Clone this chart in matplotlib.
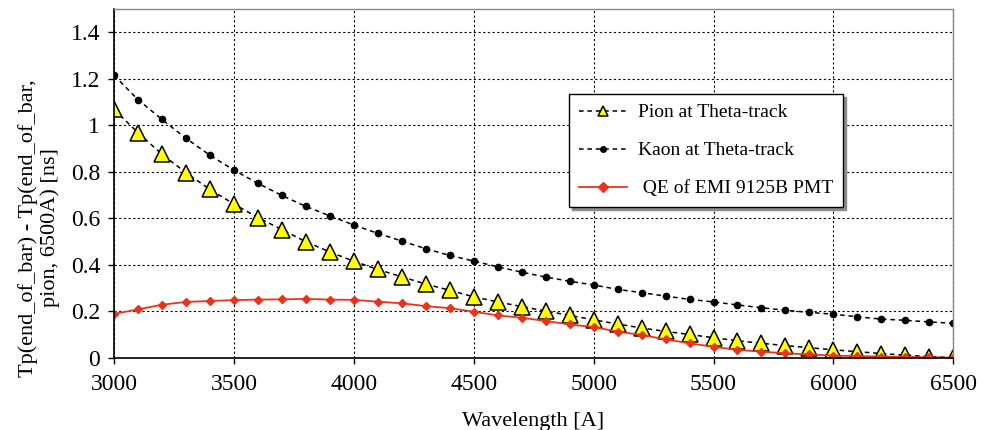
import numpy as np
import matplotlib
matplotlib.use('Agg')
import matplotlib.pyplot as plt

plt.rcParams['font.family'] = ['Liberation Serif', 'DejaVu Serif']

# wavelength in Angstrom
wavelength = [3000, 3100, 3200, 3300, 3400, 3500, 3600, 3700, 3800, 3900,
              4000, 4100, 4200, 4300, 4400, 4500, 4600, 4700, 4800, 4900,
              5000, 5100, 5200, 5300, 5400, 5500, 5600, 5700, 5800, 5900,
              6000, 6100, 6200, 6300, 6400, 6500]

pion = [1.068, 0.968, 0.875, 0.796, 0.724, 0.661, 0.603, 0.551, 0.499, 0.455,
        0.415, 0.380, 0.348, 0.317, 0.290, 0.262, 0.240, 0.220, 0.201, 0.182,
        0.163, 0.145, 0.128, 0.113, 0.100, 0.086, 0.073, 0.062, 0.052, 0.043,
        0.034, 0.026, 0.018, 0.011, 0.005, 0.0]

kaon = [1.215, 1.110, 1.025, 0.944, 0.871, 0.807, 0.750, 0.698, 0.651, 0.610,
        0.571, 0.535, 0.502, 0.469, 0.440, 0.416, 0.391, 0.368, 0.347, 0.329,
        0.313, 0.294, 0.280, 0.265, 0.251, 0.240, 0.227, 0.215, 0.204, 0.195,
        0.187, 0.176, 0.166, 0.161, 0.154, 0.148]

qe = [0.188, 0.208, 0.228, 0.240, 0.244, 0.248, 0.250, 0.251, 0.253, 0.250,
      0.249, 0.241, 0.234, 0.222, 0.213, 0.198, 0.182, 0.172, 0.158, 0.143,
      0.132, 0.112, 0.098, 0.079, 0.062, 0.047, 0.034, 0.026, 0.019, 0.014,
      0.009, 0.007, 0.005, 0.003, 0.002, 0.0]

labels = ['Pion at Theta-track', 'Kaon at Theta-track', ' QE of EMI 9125B PMT']
xticks = [3000, 3500, 4000, 4500, 5000, 5500, 6000, 6500]
yticks = [0, 0.2, 0.4, 0.6, 0.8, 1, 1.2, 1.4]
ytick_labels = ['0', '0.2', '0.4', '0.6', '0.8', '1', '1.2', '1.4']

red = '#e8341c'
dash = (0, (3, 2.5))

fig = plt.figure(figsize=(9.88, 4.3), dpi=100)
ax = fig.add_axes([0.1154, 0.1681, 0.8495, 0.8109])

ax.plot(wavelength, pion, linestyle=dash, color='black', lw=1.1,
        marker='^', markersize=11, markerfacecolor='#ffff00',
        markeredgecolor='black', markeredgewidth=1.1, label=labels[0])
ax.plot(wavelength, kaon, linestyle=dash, color='black', lw=1.1,
        marker='o', markersize=4.5, markerfacecolor='black',
        markeredgecolor='black', label=labels[1])
ax.plot(wavelength, qe, linestyle='-', color=red, lw=1.3,
        marker='D', markersize=4.5, markerfacecolor=red,
        markeredgecolor=red, label=labels[2])

ax.set_xlim(3000, 6500)
ax.set_ylim(0, 1.5)
ax.set_xticks(xticks)
ax.set_yticks(yticks)
ax.set_yticklabels(ytick_labels)
ax.tick_params(direction='out', length=4, width=1, labelsize=17, color='black')
ax.tick_params(axis='x', pad=8)
ax.tick_params(axis='y', pad=6)

ax.grid(True, color='black', lw=0.8, linestyle=(0, (2, 2.2)))
ax.set_axisbelow(True)

for side in ['top', 'right']:
    ax.spines[side].set_color('#888888')
    ax.spines[side].set_linewidth(1.0)
for side in ['left', 'bottom']:
    ax.spines[side].set_color('black')
    ax.spines[side].set_linewidth(1.2)

leg = ax.legend(loc='upper left', bbox_to_anchor=(0.542, 0.756),
                borderaxespad=0, fontsize=14, frameon=True, fancybox=False,
                edgecolor='black', framealpha=1,
                shadow={'color': '0.55', 'alpha': 1},
                handlelength=2.5, handletextpad=0.55, labelspacing=1.05,
                borderpad=0.5, numpoints=1)
leg.get_frame().set_linewidth(1.0)
for h, ms in zip(leg.legend_handles, [7.5, 4, 5]):
    h.set_markersize(ms)

fig.text(0.0395, 0.470, 'Tp(end_of_bar) - Tp(end_of_bar,\npion, 6500A) [ns]',
         rotation=90, ha='center', va='center', multialignment='center',
         fontsize=16, linespacing=1.2)
fig.text(0.540, 0.010, 'Wavelength [A]', ha='center', va='baseline', fontsize=16)

fig.savefig('out.png', dpi=100)
